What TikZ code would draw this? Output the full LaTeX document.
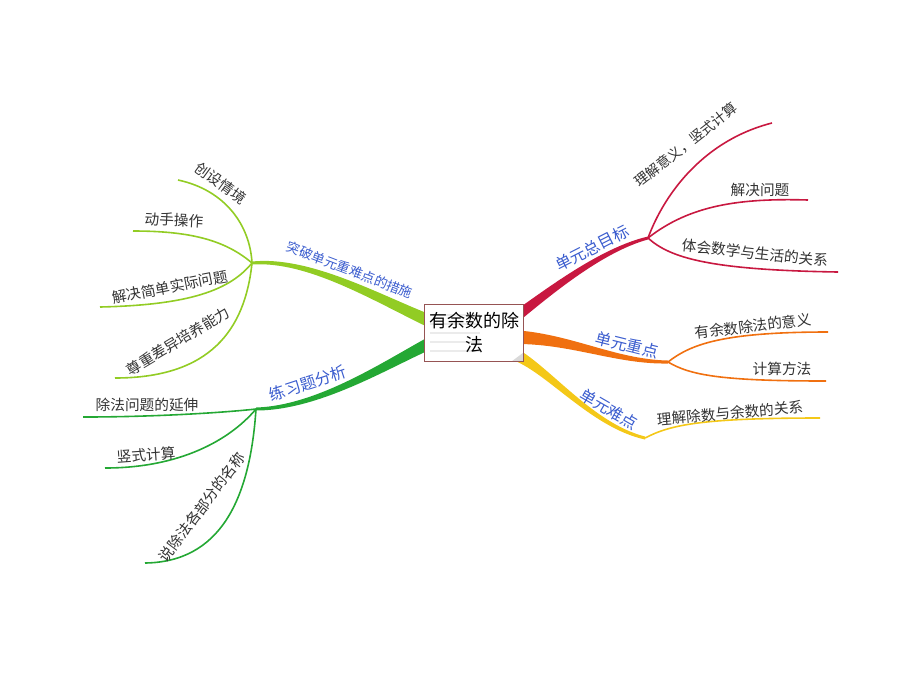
\documentclass[tikz,border=0pt]{standalone}
\usepackage{fontspec}
\newfontfamily\cjk{Noto Sans CJK SC}
\usetikzlibrary{
  calc,         % Calculations $...$
  backgrounds   % Predefined layer named "background"
}
\definecolor{redBr}{RGB}{200,24,64}
\definecolor{orangeBr}{RGB}{240,112,16}
\definecolor{yellowBr}{RGB}{244,200,24}
\definecolor{limeBr}{RGB}{146,204,36}
\definecolor{greenBr}{RGB}{36,168,52}
\definecolor{labelBlue}{RGB}{58,92,206}
\def\mywidth{7}
\def\mytip{1.5}
% tapered main branch: from, control 1, control 2, to, half width, colour
\newcommand{\limb}[6]{%
  \fill[#6] ($(#1)+(0,-#5)$) .. controls ($(#2)+(0,-0.7*#5)$) and ($(#3)+(0,-0.35*#5)$)
    .. ($(#4)+(0,-\mytip)$) -- ($(#4)+(0,\mytip)$)
    .. controls ($(#3)+(0,0.35*#5)$) and ($(#2)+(0,0.7*#5)$) .. ($(#1)+(0,#5)$) -- cycle;}
\tikzset{
  x=0.75pt,y=-0.75pt,
  font=\cjk,
  root/.style={
    draw={rgb,255:red,150;green,84;blue,84},
    fill=white,
    line width=0.9pt,
    minimum width=74pt,
    minimum height=43pt,
    align=center,
    inner sep=1pt,
    font=\cjk\fontsize{13.5}{18}\selectfont,
    path picture={
      \foreach \k in {0.18,0.34,...,0.9}
        \draw[black!8,line width=1.5pt]
          ($(path picture bounding box.north west)!\k!(path picture bounding box.south west)+(5,0)$)
          -- ++(50,0);
      \fill[black!15] (path picture bounding box.south east) -- ++(-12,0) -- ++(12,-9) -- cycle;
    }
  },
  topic/.style={
    text=labelBlue,
    inner sep=1pt,
    font=\cjk\fontsize{12}{14}\selectfont
  },
  leaf/.style={
    text=black!80,
    inner sep=1pt,
    font=\cjk\fontsize{11}{13}\selectfont
  },
  twig/.style={line width=1.2pt}
}

\begin{document}
\begin{tikzpicture}
\useasboundingbox (0,0) rectangle (920,690);
% the centre
\node[root] (root) at (474,333) {有余数的除\\法};
% hubs and ends
\coordinate (hubR) at (648,238);
\coordinate (hubO) at (668,362);
\coordinate (hubY) at (645,438);
\coordinate (hubL) at (252,263);
\coordinate (hubG) at (256,409);
\coordinate (r1) at (772,123);
\coordinate (r2) at (808,200);
\coordinate (r3) at (838,272);
\coordinate (o1) at (828,332);
\coordinate (o2) at (826,381);
\coordinate (y1) at (820,418);
\coordinate (l1) at (178,180);
\coordinate (l2) at (133,231);
\coordinate (l3) at (100,307);
\coordinate (l4) at (115,378);
\coordinate (g1) at (83,417);
\coordinate (g2) at (105,468);
\coordinate (g3) at (145,563);
\coordinate (sR) at (512,320);
\coordinate (sO) at (512,337);
\coordinate (sY) at (510,352);
\coordinate (sL) at (434,323);
\coordinate (sG) at (434,341);

\begin{scope}[on background layer]
\limb{sR}{545,295}{600,250}{hubR}{\mywidth}{redBr}
\limb{sO}{570,338}{615,362}{hubO}{\mywidth}{orangeBr}
\limb{sY}{545,365}{590,425}{hubY}{\mywidth}{yellowBr}
\limb{sL}{380,300}{310,258}{hubL}{\mywidth}{limeBr}
\limb{sG}{390,362}{320,408}{hubG}{\mywidth}{greenBr}

\draw[twig,redBr] (hubR) .. controls (665,192) and (705,140) .. (r1);
\draw[twig,redBr] (hubR) .. controls (690,205) and (740,198) .. (r2);
\draw[twig,redBr] (hubR) .. controls (670,258) and (710,270) .. (r3);
\draw[twig,orangeBr] (hubO) .. controls (690,345) and (720,332) .. (o1);
\draw[twig,orangeBr] (hubO) .. controls (690,375) and (720,381) .. (o2);
\draw[twig,yellowBr] (hubY) .. controls (670,425) and (700,418) .. (y1);
\draw[twig,limeBr] (hubL) .. controls (250,225) and (225,190) .. (l1);
\draw[twig,limeBr] (hubL) .. controls (225,240) and (190,231) .. (l2);
\draw[twig,limeBr] (hubL) .. controls (230,290) and (190,305) .. (l3);
\draw[twig,limeBr] (hubL) .. controls (245,330) and (210,378) .. (l4);
\draw[twig,greenBr] (hubG) .. controls (230,412) and (160,417) .. (g1);
\draw[twig,greenBr] (hubG) .. controls (230,440) and (180,468) .. (g2);
\draw[twig,greenBr] (hubG) .. controls (250,500) and (220,562) .. (g3);
\end{scope}

% topics
\node[topic,rotate=27]  (tR) at (592,248) {单元总目标};
\node[topic,rotate=-14] (tO) at (627,345) {单元重点};
\node[topic,rotate=-30] (tY) at (609,409) {单元难点};
\node[topic,rotate=-21,font=\cjk\fontsize{10}{12}\selectfont] (tL) at (350,270) {突破单元重难点的措施};
\node[topic,rotate=18]  (tG) at (308,383) {练习题分析};
% leaves
\node[leaf,rotate=38,font=\cjk\fontsize{10.5}{12}\selectfont] (a1) at (686,145) {理解意义，竖式计算};
\node[leaf]           (a2) at (760,190) {解决问题};
\node[leaf,rotate=-6] (a3) at (755,253) {体会数学与生活的关系};
\node[leaf,rotate=7]  (b1) at (753,326) {有余数除法的意义};
\node[leaf]           (b2) at (782,369) {计算方法};
\node[leaf,rotate=5]  (c1) at (730,413) {理解除数与余数的关系};
\node[leaf,rotate=-36](d1) at (221,183) {创设情境};
\node[leaf,rotate=-3] (d2) at (174,220) {动手操作};
\node[leaf,rotate=11] (d3) at (170,287) {解决简单实际问题};
\node[leaf,rotate=31] (d4) at (178,341) {尊重差异培养能力};
\node[leaf]           (e1) at (147,405) {除法问题的延伸};
\node[leaf,rotate=4]  (e2) at (146,455) {竖式计算};
\node[leaf,rotate=53] (e3) at (202,507) {说除法各部分的名称};
\end{tikzpicture}
\end{document}
